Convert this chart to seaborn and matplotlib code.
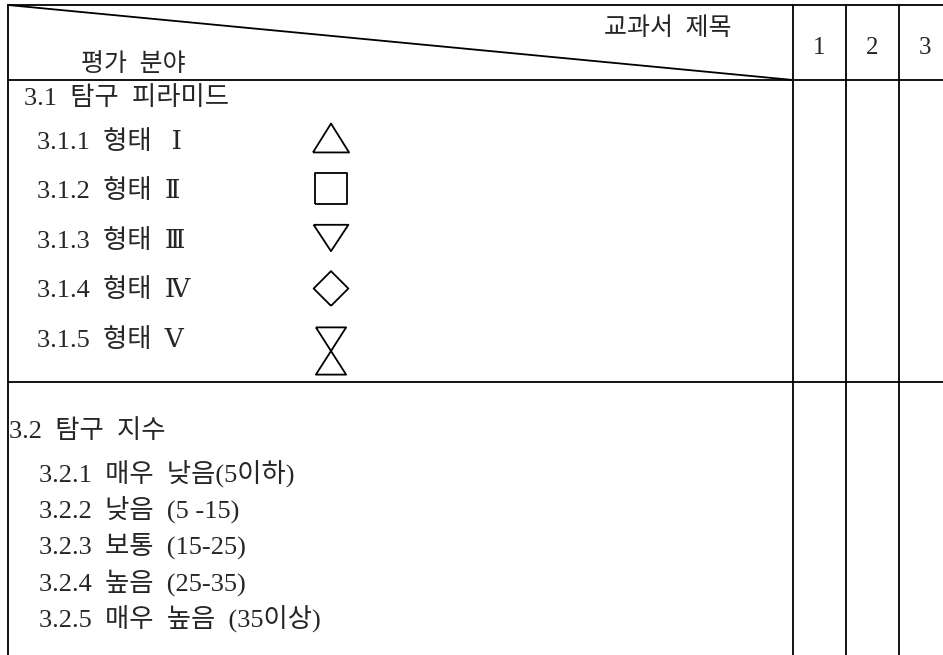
import seaborn as sns
import matplotlib.pyplot as plt
from matplotlib.path import Path

# table contents
header_col = "교과서  제목"
header_row = "평가  분야"
column_ids = ["1", "2", "3"]

sec1_title = "3.1  탐구  피라미드"
sec1_items = ["3.1.1  형태   Ⅰ", "3.1.2  형태  Ⅱ", "3.1.3  형태  Ⅲ",
              "3.1.4  형태  Ⅳ", "3.1.5  형태  Ⅴ"]
sec1_shapes = ["tri_up", "square", "tri_down", "diamond", "hourglass"]

sec2_title = "3.2  탐구  지수"
sec2_items = ["3.2.1  매우  낮음(5이하)", "3.2.2  낮음  (5 -15)",
              "3.2.3  보통  (15-25)", "3.2.4  높음  (25-35)",
              "3.2.5  매우  높음  (35이상)"]

sns.set_theme(style="white")
plt.rcParams['font.family'] = ['Liberation Serif', 'DejaVu Serif', 'Noto Sans CJK KR']

W, H = 943, 655
fig = plt.figure(figsize=(W / 100, H / 100), dpi=100)
ax = fig.add_axes([0, 0, 1, 1])
ax.set_xlim(0, W)
ax.set_ylim(H, 0)
ax.axis('off')

# grid lines
left, top, head_bot, sec_line = 8, 5, 80, 382
col_x = [793, 846, 899]
lw = 1.3
for y in [top, head_bot, sec_line]:
    ax.plot([left, W], [y, y], color='black', lw=lw)
for x in [left] + col_x:
    ax.plot([x, x], [top, H], color='black', lw=lw)
ax.plot([left, col_x[0]], [top, head_bot], color='black', lw=lw)

fs_head = 18
fs = 19
ax.text(668, 29, header_col, fontsize=fs_head, ha='center', va='center')
ax.text(133, 65, header_row, fontsize=fs_head, ha='center', va='center')
col_w = col_x[1] - col_x[0]
for i, c in enumerate(column_ids):
    ax.text(col_x[0] + col_w * (i + 0.5), 48, c, fontsize=fs_head, ha='center', va='center')

# section 3.1
ax.text(24, 98, sec1_title, fontsize=fs, ha='left', va='center')
shape_paths = {
    "tri_up": [(-0.5, -0.4), (0.5, -0.4), (0, 0.4), (-0.5, -0.4)],
    "square": [(-0.5, -0.5), (0.5, -0.5), (0.5, 0.5), (-0.5, 0.5), (-0.5, -0.5)],
    "tri_down": [(-0.5, 0.38), (0.5, 0.38), (0, -0.38), (-0.5, 0.38)],
    "diamond": [(0, -0.5), (0.5, 0), (0, 0.5), (-0.5, 0), (0, -0.5)],
    "hourglass": [(-0.32, 0.5), (0.32, 0.5), (-0.32, -0.5), (0.32, -0.5), (-0.32, 0.5)],
}
shape_sizes = {"tri_up": 26, "square": 23, "tri_down": 25, "diamond": 25, "hourglass": 34}
shape_dy = {"tri_up": -3, "square": -2, "tri_down": -2, "diamond": -1, "hourglass": 12}
for i, (label, shp) in enumerate(zip(sec1_items, sec1_shapes)):
    y = 141 + i * 49.5
    ax.text(37, y + 1, label, fontsize=fs, ha='left', va='center')
    ax.scatter([331], [y + shape_dy[shp]], marker=Path(shape_paths[shp]),
               s=shape_sizes[shp] ** 2, facecolors='none', edgecolors='black',
               linewidths=1.3)

# section 3.2
ax.text(9, 431, sec2_title, fontsize=fs, ha='left', va='center')
for i, label in enumerate(sec2_items):
    ax.text(39, 473 + i * 36.5, label, fontsize=fs, ha='left', va='center')

fig.savefig('out.png', dpi=100, facecolor='white')
